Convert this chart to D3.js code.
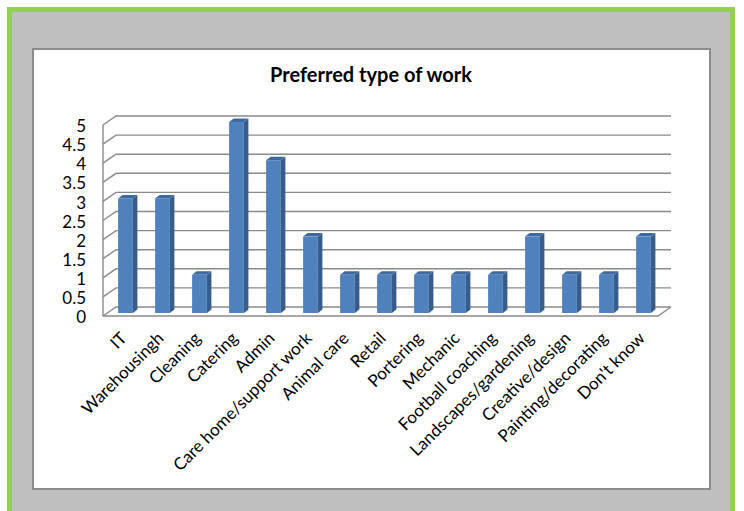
<!DOCTYPE html>
<html>
<head>
<meta charset="utf-8">
<style>
    body { margin: 0; background: #fff; }
    svg text { font-family: Lato, "Liberation Sans", sans-serif; fill: #000; }
</style>
</head>
<body>
<svg width="744" height="511"></svg>
<script src="https://d3js.org/d3.v7.min.js"></script>
<script>
    // chart data
    var categories = ["IT", "Warehousingh", "Cleaning", "Catering", "Admin", "Care home/support work",
        "Animal care", "Retail", "Portering", "Mechanic", "Football coaching", "Landscapes/gardening",
        "Creative/design", "Painting/decorating", "Don't know"];
    var counts = [3, 3, 1, 5, 4, 2, 1, 1, 1, 1, 1, 2, 1, 1, 2];
    var yTicks = [0, 0.5, 1, 1.5, 2, 2.5, 3, 3.5, 4, 4.5, 5];
    var title = "Preferred type of work";

    var svg = d3.select("svg");

    // outer frame and white panel
    svg.append("rect").attr("x", 9.5).attr("y", 9.5).attr("width", 723).attr("height", 520)
        .attr("fill", "#bfbfbf").attr("stroke", "#92d050").attr("stroke-width", 5);
    svg.append("rect").attr("x", 33).attr("y", 49).attr("width", 677).attr("height", 440)
        .attr("fill", "#fff").attr("stroke", "#8c8c8c").attr("stroke-width", 2);

    svg.append("text").attr("x", 371).attr("y", 82).attr("text-anchor", "middle")
        .style("font-size", "20px").style("font-weight", "bold").text(title);

    // 3d offsets: wall depth and bar front plane
    var depth = {dx: 13, dy: -9};
    var barOff = {dx: 4, dy: -3};
    var bar3d = {dx: 4.5, dy: -3.5};

    var x = d3.scaleBand().domain(categories).range([103, 658]).paddingInner(0.6).paddingOuter(0.3);
    var y = d3.scaleLinear().domain([0, 5]).range([316, 125]);

    var grid = svg.append("g").attr("fill", "none").attr("stroke", "#8a8a8a").attr("stroke-width", 1.4);

    // side wall + back wall gridlines
    yTicks.forEach(function(t) {
        grid.append("path").attr("d",
            "M103," + y(t) + "L" + (103 + depth.dx) + "," + (y(t) + depth.dy) +
            "L" + (658 + depth.dx) + "," + (y(t) + depth.dy));
    });
    // left axis and floor
    grid.append("path").attr("d", "M103," + y(0) + "V" + y(5));
    grid.append("path").attr("d", "M103," + y(0) + "H658L" + (658 + depth.dx) + "," + (y(0) + depth.dy));

    svg.append("g").selectAll("text").data(yTicks).enter().append("text")
        .attr("x", 86).attr("y", d => y(d) + 1).attr("dy", "0.36em")
        .attr("text-anchor", "end").style("font-size", "17px")
        .text(d => d);

    // bars
    var bars = svg.append("g").selectAll("g").data(categories).enter().append("g");
    bars.each(function(c, i) {
        var g = d3.select(this);
        var x0 = x(c) + barOff.dx, x1 = x0 + x.bandwidth();
        var yb = y(0) + barOff.dy, yt = y(counts[i]) + barOff.dy;
        g.append("path").attr("fill", "#385d8a").attr("d",
            "M" + x1 + "," + yb + "L" + (x1 + bar3d.dx) + "," + (yb + bar3d.dy) +
            "L" + (x1 + bar3d.dx) + "," + (yt + bar3d.dy) + "L" + x1 + "," + yt + "Z");
        g.append("path").attr("fill", "#3f6aa0").attr("d",
            "M" + x0 + "," + yt + "L" + (x0 + bar3d.dx) + "," + (yt + bar3d.dy) +
            "L" + (x1 + bar3d.dx) + "," + (yt + bar3d.dy) + "L" + x1 + "," + yt + "Z");
        g.append("rect").attr("fill", "#4f81bd").attr("x", x0).attr("y", yt)
            .attr("width", x1 - x0).attr("height", yb - yt);
    });

    // category labels, rotated
    svg.append("g").selectAll("text").data(categories).enter().append("text")
        .attr("transform", d => "translate(" + (x(d) + x.bandwidth() / 2 + 2) + ",335) rotate(-45)")
        .attr("text-anchor", "end").attr("dy", "0.36em")
        .style("font-size", "17px")
        .text(d => d);
</script>
</body>
</html>
